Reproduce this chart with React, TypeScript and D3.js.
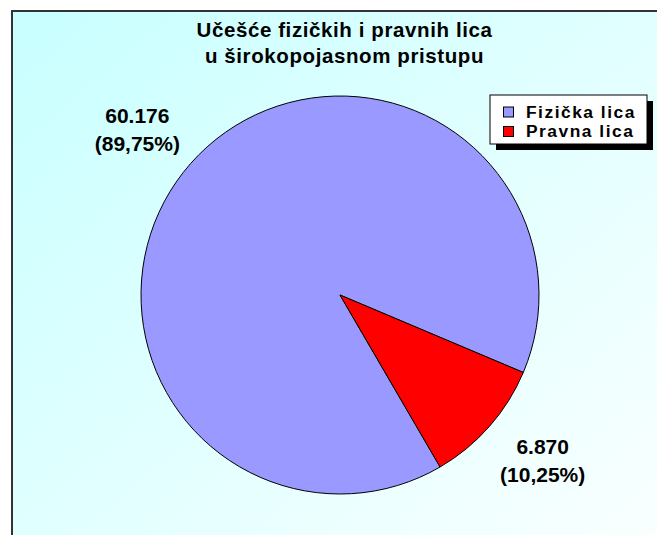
import React from "react";
import * as d3 from "d3";

const categories = ["Fizička lica", "Pravna lica"];
const values = [60176, 6870];
const colors = ["#9999ff", "#ff0000"];
const titleLines = ["Učešće fizičkih i pravnih lica", "u širokopojasnom pristupu"];

const W = 657;
const H = 535;
const FONT = "'Liberation Sans', Arial, sans-serif";

export default function App() {
  const cx = 340;
  const cy = 295;
  const r = 199;
  const startDeg = 149.8;
  const start = (startDeg * Math.PI) / 180;
  const pie = d3
    .pie<number>()
    .sort(null)
    .startAngle(start)
    .endAngle(start + 2 * Math.PI)
    .value((d) => d);
  const arcs = pie(values);
  const arc = d3.arc<d3.PieArcDatum<number>>().innerRadius(0).outerRadius(r);
  const total = d3.sum(values);
  const fmtNum = (v: number) => d3.format(",")(v).replace(/,/g, ".");
  const fmtPct = (v: number) => "(" + (v * 100).toFixed(2).replace(".", ",") + "%)";
  const rx = 270;
  const ry = 250;
  const legStep = 19.5;

  return (
    <>
      <style>{"body{margin:0}"}</style>
      <svg width={W} height={H} style={{ display: "block" }} fontFamily={FONT}>
        <defs>
          <linearGradient id="bg" x1="0" y1="0" x2="1" y2="1">
            <stop offset="0" stopColor="#c8ffff" />
            <stop offset="1" stopColor="#ffffff" />
          </linearGradient>
        </defs>
        <rect x={0} y={0} width={W} height={H} fill="#ffffff" />
        <rect x={12} y={11} width={700} height={600} fill="url(#bg)" stroke="#333333" strokeWidth={2} />
        {titleLines.map((t, i) => (
          <text
            key={i}
            x={344.5}
            y={37 + i * 26}
            textAnchor="middle"
            fontWeight="bold"
            fontSize={20.5}
            letterSpacing={0.6}
            fill="#000"
          >
            {t}
          </text>
        ))}
        <g transform={`translate(${cx},${cy})`}>
          {arcs.map((a, i) => (
            <path key={i} d={arc(a) || ""} fill={colors[i]} stroke="#000" strokeWidth={1} />
          ))}
          {arcs.map((a, i) => {
            const mid = (a.startAngle + a.endAngle) / 2;
            const lx = rx * Math.sin(mid);
            const ly = -ry * Math.cos(mid);
            return (
              <g key={"l" + i} fontWeight="bold" fontSize={21} textAnchor="middle" fill="#000">
                <text x={lx} y={ly - 6.5}>{fmtNum(values[i])}</text>
                <text x={lx} y={ly + 21.5}>{fmtPct(values[i] / total)}</text>
              </g>
            );
          })}
        </g>
        <g>
          <rect x={496} y={101} width={157} height={49} fill="#000" />
          <rect x={490} y={95} width={157} height={49} fill="#fff" stroke="#000" strokeWidth={1} />
          {categories.map((c, i) => (
            <g key={c}>
              <rect x={503.5} y={107 + i * legStep} width={10} height={10} fill={colors[i]} stroke="#000" strokeWidth={1} />
              <text x={526} y={117.5 + i * legStep} fontWeight="bold" fontSize={17.4} letterSpacing={1.5} fill="#000">
                {c}
              </text>
            </g>
          ))}
        </g>
      </svg>
    </>
  );
}
